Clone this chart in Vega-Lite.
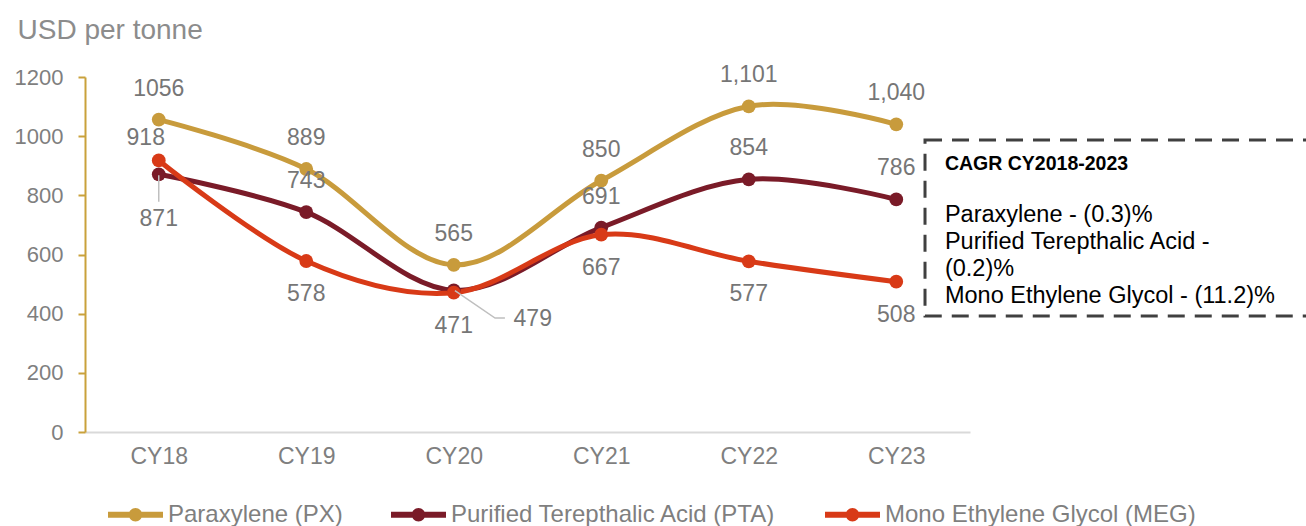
{
  "$schema": "https://vega.github.io/schema/vega-lite/v6.json",
  "width": 1221,
  "height": 355,
  "autosize": {"type": "none"},
  "padding": {"left": 85, "top": 77, "right": 0, "bottom": 94},
  "config": {"view": {"stroke": null}, "font": "Liberation Sans", "axis": {"grid": false}},
  "datasets": {
    "prices": [
      {"series": "Paraxylene (PX)", "year": "CY18", "price": 1056, "label": "1056"},
      {"series": "Paraxylene (PX)", "year": "CY19", "price": 889, "label": "889"},
      {"series": "Paraxylene (PX)", "year": "CY20", "price": 565, "label": "565"},
      {"series": "Paraxylene (PX)", "year": "CY21", "price": 850, "label": "850"},
      {"series": "Paraxylene (PX)", "year": "CY22", "price": 1101, "label": "1,101"},
      {"series": "Paraxylene (PX)", "year": "CY23", "price": 1040, "label": "1,040"},
      {"series": "Purified Terepthalic Acid (PTA)", "year": "CY18", "price": 871, "label": "871"},
      {"series": "Purified Terepthalic Acid (PTA)", "year": "CY19", "price": 743, "label": "743"},
      {"series": "Purified Terepthalic Acid (PTA)", "year": "CY20", "price": 479, "label": "479"},
      {"series": "Purified Terepthalic Acid (PTA)", "year": "CY21", "price": 691, "label": "691"},
      {"series": "Purified Terepthalic Acid (PTA)", "year": "CY22", "price": 854, "label": "854"},
      {"series": "Purified Terepthalic Acid (PTA)", "year": "CY23", "price": 786, "label": "786"},
      {"series": "Mono Ethylene Glycol (MEG)", "year": "CY18", "price": 918, "label": "918"},
      {"series": "Mono Ethylene Glycol (MEG)", "year": "CY19", "price": 578, "label": "578"},
      {"series": "Mono Ethylene Glycol (MEG)", "year": "CY20", "price": 471, "label": "471"},
      {"series": "Mono Ethylene Glycol (MEG)", "year": "CY21", "price": 667, "label": "667"},
      {"series": "Mono Ethylene Glycol (MEG)", "year": "CY22", "price": 577, "label": "577"},
      {"series": "Mono Ethylene Glycol (MEG)", "year": "CY23", "price": 508, "label": "508"}
    ],
    "box": [
      {"x1": 5.195, "x2": 7.95, "y1": 987, "y2": 392}
    ],
    "note": [
      {"t": 5.33, "v": 906, "text": "CAGR CY2018-2023", "kind": "head"},
      {"t": 5.33, "v": 734, "text": "Paraxylene - (0.3)%", "kind": "body"},
      {"t": 5.33, "v": 642, "text": "Purified Terepthalic Acid -", "kind": "body"},
      {"t": 5.33, "v": 551, "text": "(0.2)%", "kind": "body"},
      {"t": 5.33, "v": 460, "text": "Mono Ethylene Glycol - (11.2)%", "kind": "body"}
    ],
    "leaders": [
      {"id": "a", "step": 1, "t": 0.0, "v": 868},
      {"id": "a", "step": 2, "t": 0.0, "v": 778},
      {"id": "b", "step": 1, "t": 2.008, "v": 478},
      {"id": "b", "step": 2, "t": 2.28, "v": 385},
      {"id": "b", "step": 3, "t": 2.347, "v": 385}
    ]
  },
  "layer": [
    {
      "data": {"name": "prices"},
      "encoding": {
        "x": {
          "field": "year", "type": "ordinal",
          "scale": {"type": "point", "padding": 0.5, "range": [0, 885]},
          "axis": {"title": null, "labelAngle": 0, "ticks": false, "domainColor": "#d9d9d9", "domainWidth": 2, "labelFontSize": 23, "labelColor": "#7f7f7f", "labelPadding": 13}
        },
        "y": {
          "field": "price", "type": "quantitative",
          "scale": {"domain": [0, 1200], "nice": false},
          "axis": {"values": [0, 200, 400, 600, 800, 1000, 1200], "format": "d", "domainColor": "#C9A13B", "domainWidth": 2, "tickColor": "#C9A13B", "tickWidth": 2, "tickSize": 7, "labelFontSize": 22, "labelColor": "#7f7f7f", "labelPadding": 15, "title": "USD per tonne", "titleAngle": 0, "titleAlign": "left", "titleBaseline": "alphabetic", "titleX": -68, "titleY": -39, "titleFontSize": 28, "titleFontWeight": "normal", "titleColor": "#8c8c8c"}
        },
        "color": {
          "field": "series", "type": "nominal",
          "scale": {"domain": ["Paraxylene (PX)", "Purified Terepthalic Acid (PTA)", "Mono Ethylene Glycol (MEG)"], "range": ["#C89B3C", "#7A1B28", "#D83A17"]},
          "legend": {"orient": "none", "legendX": 23, "legendY": 410, "direction": "horizontal", "title": null, "symbolType": "M-1,-0.105H1V0.105H-1Z M0.245,0A0.245,0.245 0 1 1 -0.245,0A0.245,0.245 0 1 1 0.245,0Z", "symbolSize": 3025, "symbolStrokeWidth": 0, "symbolOpacity": 1, "labelFontSize": 24, "labelColor": "#7f7f7f", "labelFont": "Liberation Sans", "labelLimit": 0, "columnPadding": 48, "labelOffset": 5, "padding": 0}
        }
      },
      "layer": [
        {
          "mark": {"type": "line", "interpolate": "cardinal", "strokeWidth": 5}
        },
        {
          "mark": {"type": "point", "filled": true, "size": 190, "opacity": 1, "shape": "circle"}
        },
        {
          "transform": [{"filter": "datum.series == 'Paraxylene (PX)' || (datum.series == 'Purified Terepthalic Acid (PTA)' && datum.year != 'CY18' && datum.year != 'CY20')"}],
          "mark": {"type": "text", "dy": -31, "fontSize": 23, "baseline": "middle"},
          "encoding": {"text": {"field": "label"}, "color": {"value": "#767676"}}
        },
        {
          "transform": [{"filter": "datum.series == 'Mono Ethylene Glycol (MEG)' && datum.year != 'CY18'"}],
          "mark": {"type": "text", "dy": 33, "fontSize": 23, "baseline": "middle"},
          "encoding": {"text": {"field": "label"}, "color": {"value": "#767676"}}
        },
        {
          "transform": [{"filter": "datum.series == 'Mono Ethylene Glycol (MEG)' && datum.year == 'CY18'"}],
          "mark": {"type": "text", "dx": -13, "dy": -22, "fontSize": 23, "baseline": "middle"},
          "encoding": {"text": {"field": "label"}, "color": {"value": "#767676"}}
        },
        {
          "transform": [{"filter": "datum.series == 'Purified Terepthalic Acid (PTA)' && datum.year == 'CY18'"}],
          "mark": {"type": "text", "dy": 45, "fontSize": 23, "baseline": "middle"},
          "encoding": {"text": {"field": "label"}, "color": {"value": "#767676"}}
        },
        {
          "transform": [{"filter": "datum.series == 'Purified Terepthalic Acid (PTA)' && datum.year == 'CY20'"}],
          "mark": {"type": "text", "dx": 79, "dy": 29, "fontSize": 23, "baseline": "middle"},
          "encoding": {"text": {"field": "label"}, "color": {"value": "#767676"}}
        }
      ]
    },
    {
      "layer": [
        {
          "data": {"name": "leaders"},
          "mark": {"type": "line", "color": "#bfbfbf", "strokeWidth": 1.5},
          "encoding": {
            "x": {"field": "t", "type": "quantitative", "scale": {"domain": [-0.5, 7.778], "nice": false, "zero": false}, "axis": null},
            "y": {"field": "v", "type": "quantitative", "axis": null},
            "detail": {"field": "id"},
            "order": {"field": "step"}
          }
        },
        {
          "data": {"name": "box"},
          "mark": {"type": "rect", "filled": false, "color": "#404040", "strokeWidth": 3, "strokeDash": [17, 10], "clip": true},
          "encoding": {
            "x": {"field": "x1", "type": "quantitative", "scale": {"domain": [-0.5, 7.778], "nice": false, "zero": false}, "axis": null},
            "x2": {"field": "x2"},
            "y": {"field": "y1", "type": "quantitative", "axis": null},
            "y2": {"field": "y2"}
          }
        },
        {
          "data": {"name": "note"},
          "transform": [{"filter": "datum.kind == 'head'"}],
          "mark": {"type": "text", "align": "left", "baseline": "middle", "fontSize": 19.5, "fontWeight": "bold", "color": "#000000"},
          "encoding": {
            "x": {"field": "t", "type": "quantitative", "scale": {"domain": [-0.5, 7.778], "nice": false, "zero": false}, "axis": null},
            "y": {"field": "v", "type": "quantitative", "axis": null},
            "text": {"field": "text"}
          }
        },
        {
          "data": {"name": "note"},
          "transform": [{"filter": "datum.kind == 'body'"}],
          "mark": {"type": "text", "align": "left", "baseline": "middle", "fontSize": 23.5, "color": "#000000"},
          "encoding": {
            "x": {"field": "t", "type": "quantitative", "scale": {"domain": [-0.5, 7.778], "nice": false, "zero": false}, "axis": null},
            "y": {"field": "v", "type": "quantitative", "axis": null},
            "text": {"field": "text"}
          }
        }
      ]
    }
  ],
  "resolve": {"scale": {"x": "independent"}, "axis": {"x": "independent", "y": "independent"}}
}
